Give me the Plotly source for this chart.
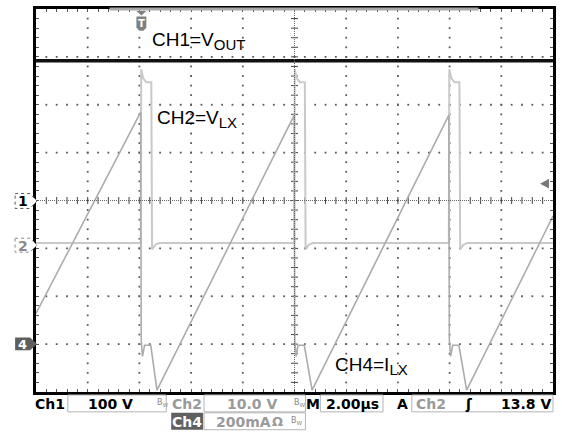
import plotly.graph_objects as go
import numpy as np

# ---------------- scope settings ----------------
T_PER_DIV = 2.0          # µs/div (M 2.00µs)
X_DIVS = 10
Y_DIVS = 8
CH1_SCALE = 100.0        # V/div
CH2_SCALE = 10.0         # V/div
CH4_SCALE = 200.0        # mA/div
CH1_POS = 0.0            # ground marker position (div from centre)
CH2_POS = -0.91
CH4_POS = -3.0

# ---------------- data ----------------
# CH1 = VOUT (V)
ch1_t = [0.0, 20.0]
ch1_v = [292, 292]

# CH2 = VLX (V)
ch2_t = [0.0, 4.05, 4.07, 4.15, 4.27, 4.46, 4.49, 4.62, 4.77,
         9.99, 10.01, 10.09, 10.21, 10.40, 10.43, 10.56, 10.71,
         15.97, 15.99, 16.07, 16.19, 16.38, 16.41, 16.54, 16.69, 20.0]
ch2_v = [0.2, 0.2, 36.5, 34.6, 33.8, 33.8, -1.1, -0.1, 0.2,
         0.2, 36.5, 34.6, 33.8, 33.8, -1.1, -0.1, 0.2,
         0.2, 36.5, 34.6, 33.8, 33.8, -1.1, -0.1, 0.2, 0.2]

# CH4 = ILX (mA)
ch4_t = [0.0, 4.05, 4.07, 4.12, 4.20, 4.44, 4.68,
         9.99, 10.01, 10.06, 10.14, 10.38, 10.68,
         15.97, 15.99, 16.04, 16.12, 16.36, 16.66, 20.0]
ch4_i = [128, 969, 15, -51, -5, -5, -192,
         957, 15, -51, -5, -5, -192,
         957, 15, -51, -5, -5, -192, 535]

# ---------------- geometry helpers (pixel -> paper) ----------------
L, R, T, B = 36, 556, 6, 392
W, H = R - L, B - T


def PX(x):
    return (x - L) / W


def PY(y):
    return (B - y) / H


X_MAX = T_PER_DIV * X_DIVS
Y_HALF = Y_DIVS / 2

fig = go.Figure()

# grid dots
gx, gy = [], []
for yl in [-3, -2, -1, 1, 2, 3]:
    for k in range(1, 50):
        gx.append(k * 0.4)
        gy.append(yl)
for xl in [2, 4, 6, 8, 12, 14, 16, 18]:
    for k in range(-19, 20):
        gx.append(xl)
        gy.append(k * 0.2)
fig.add_trace(go.Scatter(x=gx, y=gy, mode="markers", hoverinfo="skip",
                         marker=dict(symbol="square", size=1.8, color="#5a5a5a",
                                     line=dict(width=0))))
# centre-line ticks
ct = np.arange(1, 50) * 0.4
fig.add_trace(go.Scatter(x=ct, y=[0] * len(ct), mode="markers", hoverinfo="skip",
                         marker=dict(symbol="line-ns", size=5,
                                     line=dict(width=1, color="#444444"))))
cv = np.arange(-19, 20) * 0.2
fig.add_trace(go.Scatter(x=[10] * len(cv), y=cv, mode="markers", hoverinfo="skip",
                         marker=dict(symbol="line-ew", size=5,
                                     line=dict(width=1, color="#444444"))))

# waveforms
fig.add_trace(go.Scatter(x=ch2_t, y=[CH2_POS + v / CH2_SCALE for v in ch2_v],
                         mode="lines", line=dict(color="#c9c9c9", width=2),
                         name="CH2"))
fig.add_trace(go.Scatter(x=ch4_t, y=[CH4_POS + i / CH4_SCALE for i in ch4_i],
                         mode="lines", line=dict(color="#acacac", width=1.6),
                         name="CH4"))
fig.add_trace(go.Scatter(x=ch1_t, y=[CH1_POS + v / CH1_SCALE for v in ch1_v],
                         mode="lines", line=dict(color="#111111", width=3.5),
                         name="CH1"))

shapes = []
# centre dotted lines
shapes.append(dict(type="line", xref="x", yref="y", x0=0, x1=X_MAX, y0=0, y1=0,
                   line=dict(color="#666666", width=1, dash="1px,1px")))
shapes.append(dict(type="line", xref="x", yref="y", x0=10, x1=10, y0=-Y_HALF, y1=Y_HALF,
                   line=dict(color="#666666", width=1, dash="1px,1px")))
# gray record bar on top edge
shapes.append(dict(type="line", xref="paper", yref="paper", x0=PX(110), x1=PX(481),
                   y0=PY(6), y1=PY(6), layer="above",
                   line=dict(color="#a8a8a8", width=3)))


def path(pts):
    s = "M " + " L ".join(f"{PX(x):.5f},{PY(y):.5f}" for x, y in pts) + " Z"
    return s


# trigger position marker (T)
shapes.append(dict(type="path", xref="paper", yref="paper",
                   path=path([(137, 8), (147, 8), (142, 12.5)]),
                   fillcolor="#808080", line=dict(width=0), layer="above"))
shapes.append(dict(type="path", xref="paper", yref="paper",
                   path=path([(137, 13.5), (147, 13.5), (147, 25), (144, 28), (140, 28), (137, 25)]),
                   fillcolor="#808080", line=dict(width=0), layer="above"))
# trigger level marker (right)
shapes.append(dict(type="path", xref="paper", yref="paper",
                   path=path([(543, 182), (552, 177), (552, 187)]),
                   fillcolor="#7a7a7a", line=dict(width=0), layer="above"))
# channel ground markers
shapes.append(dict(type="path", xref="paper", yref="paper",
                   path=path([(15, 192), (30, 192), (37, 199.5), (30, 207), (15, 207)]),
                   fillcolor="white", line=dict(color="#555555", width=1, dash="dot")))
shapes.append(dict(type="path", xref="paper", yref="paper",
                   path=path([(15, 237), (30, 237), (37, 244), (30, 251), (15, 251)]),
                   fillcolor="white", line=dict(color="#888888", width=1, dash="dot")))
shapes.append(dict(type="path", xref="paper", yref="paper",
                   path=path([(15, 337), (30, 337), (37, 343.5), (30, 350), (15, 350)]),
                   fillcolor="#5e5e5e", line=dict(width=0)))

# status bar boxes
BOX = "#b4b4b4"
for (x0, x1, y0, y1) in [(68, 167, 395, 412), (205, 307, 395, 412), (322, 385, 395, 412),
                         (414, 556, 395, 412), (205, 307, 413, 430)]:
    shapes.append(dict(type="rect", xref="paper", yref="paper",
                       x0=PX(x0), x1=PX(x1), y0=PY(y1), y1=PY(y0),
                       line=dict(color=BOX, width=1), fillcolor="rgba(0,0,0,0)"))
shapes.append(dict(type="rect", xref="paper", yref="paper",
                   x0=PX(172), x1=PX(204), y0=PY(430), y1=PY(413),
                   line=dict(width=0), fillcolor="#606060"))

annotations = []


def ann(x, y, text, size, color="black", family="Liberation Sans, Arial", xanchor="center",
        yanchor="middle"):
    annotations.append(dict(x=PX(x), y=PY(y), xref="paper", yref="paper", text=text,
                            showarrow=False, xanchor=xanchor, yanchor=yanchor,
                            font=dict(size=size, color=color, family=family)))


SUBF = '<sub><span style="font-size:15px">{}</span></sub>'
ann(151, 38, "CH1=V" + SUBF.format("OUT"), 19, xanchor="left")
ann(156, 117, "CH2=V" + SUBF.format("LX"), 19, xanchor="left")
ann(335, 366, "CH4=I" + SUBF.format("LX"), 19, xanchor="left")

ann(142, 20.5, "<b>T</b>", 10, color="white", family="DejaVu Sans")
ann(22.5, 200, "<b>1</b>", 14, family="DejaVu Sans")
ann(22.5, 244.5, "<b>2</b>", 14, color="#8a8a8a", family="DejaVu Sans")
ann(22.5, 344, "<b>4</b>", 13, color="white", family="DejaVu Sans")

SF = "DejaVu Sans"
GR = "#9a9a9a"
ann(50, 404, "<b>Ch1</b>", 14, family=SF)
ann(111, 404, "<b>100 V</b>", 14, family=SF)
ann(188, 404, "<b>Ch2</b>", 14, color=GR, family=SF)
ann(253, 404, "<b>10.0 V</b>", 14, color=GR, family=SF)
ann(315, 404, "<b>M</b>", 14, family=SF)
ann(354, 404, "<b>2.00µs</b>", 14, family=SF)
ann(404.5, 404, "<b>A</b>", 14, family=SF)
ann(433, 404, "<b>Ch2</b>", 14, color=GR, family=SF)
ann(472, 404, "<b>ʃ</b>", 14, family=SF)
ann(529, 404, "<b>13.8 V</b>", 14, family=SF)
ann(188, 422, "<b>Ch4</b>", 14, color="white", family=SF)
ann(245, 422, "<b>200mA</b>", 14, color=GR, family=SF)
ann(279, 422, "<b>Ω</b>", 13, color=GR, family=SF)
for bx, by in [(163.5, 403), (301.5, 403), (298.5, 421)]:
    ann(bx, by, "B<sub>W</sub>", 8, color="#888888", family=SF)

fig.update_layout(
    width=562, height=432,
    margin=dict(l=L, r=562 - R, t=T, b=432 - B),
    paper_bgcolor="white", plot_bgcolor="white",
    showlegend=False,
    shapes=shapes, annotations=annotations,
    xaxis=dict(range=[0, X_MAX], showgrid=False, zeroline=False, showline=True,
               linecolor="black", linewidth=2.5, mirror="ticks", ticks="inside",
               ticklen=3, tickwidth=1, tickcolor="#555555", tick0=0, dtick=0.4,
               showticklabels=False, fixedrange=True),
    yaxis=dict(range=[-Y_HALF, Y_HALF], showgrid=False, zeroline=False, showline=True,
               linecolor="black", linewidth=2.5, mirror="ticks", ticks="inside",
               ticklen=3, tickwidth=1, tickcolor="#555555", tick0=0, dtick=0.2,
               showticklabels=False, fixedrange=True),
)

fig.write_html("out.html", config={"displayModeBar": False},
               post_script="document.body.style.margin='0';document.body.style.overflow='hidden';")
